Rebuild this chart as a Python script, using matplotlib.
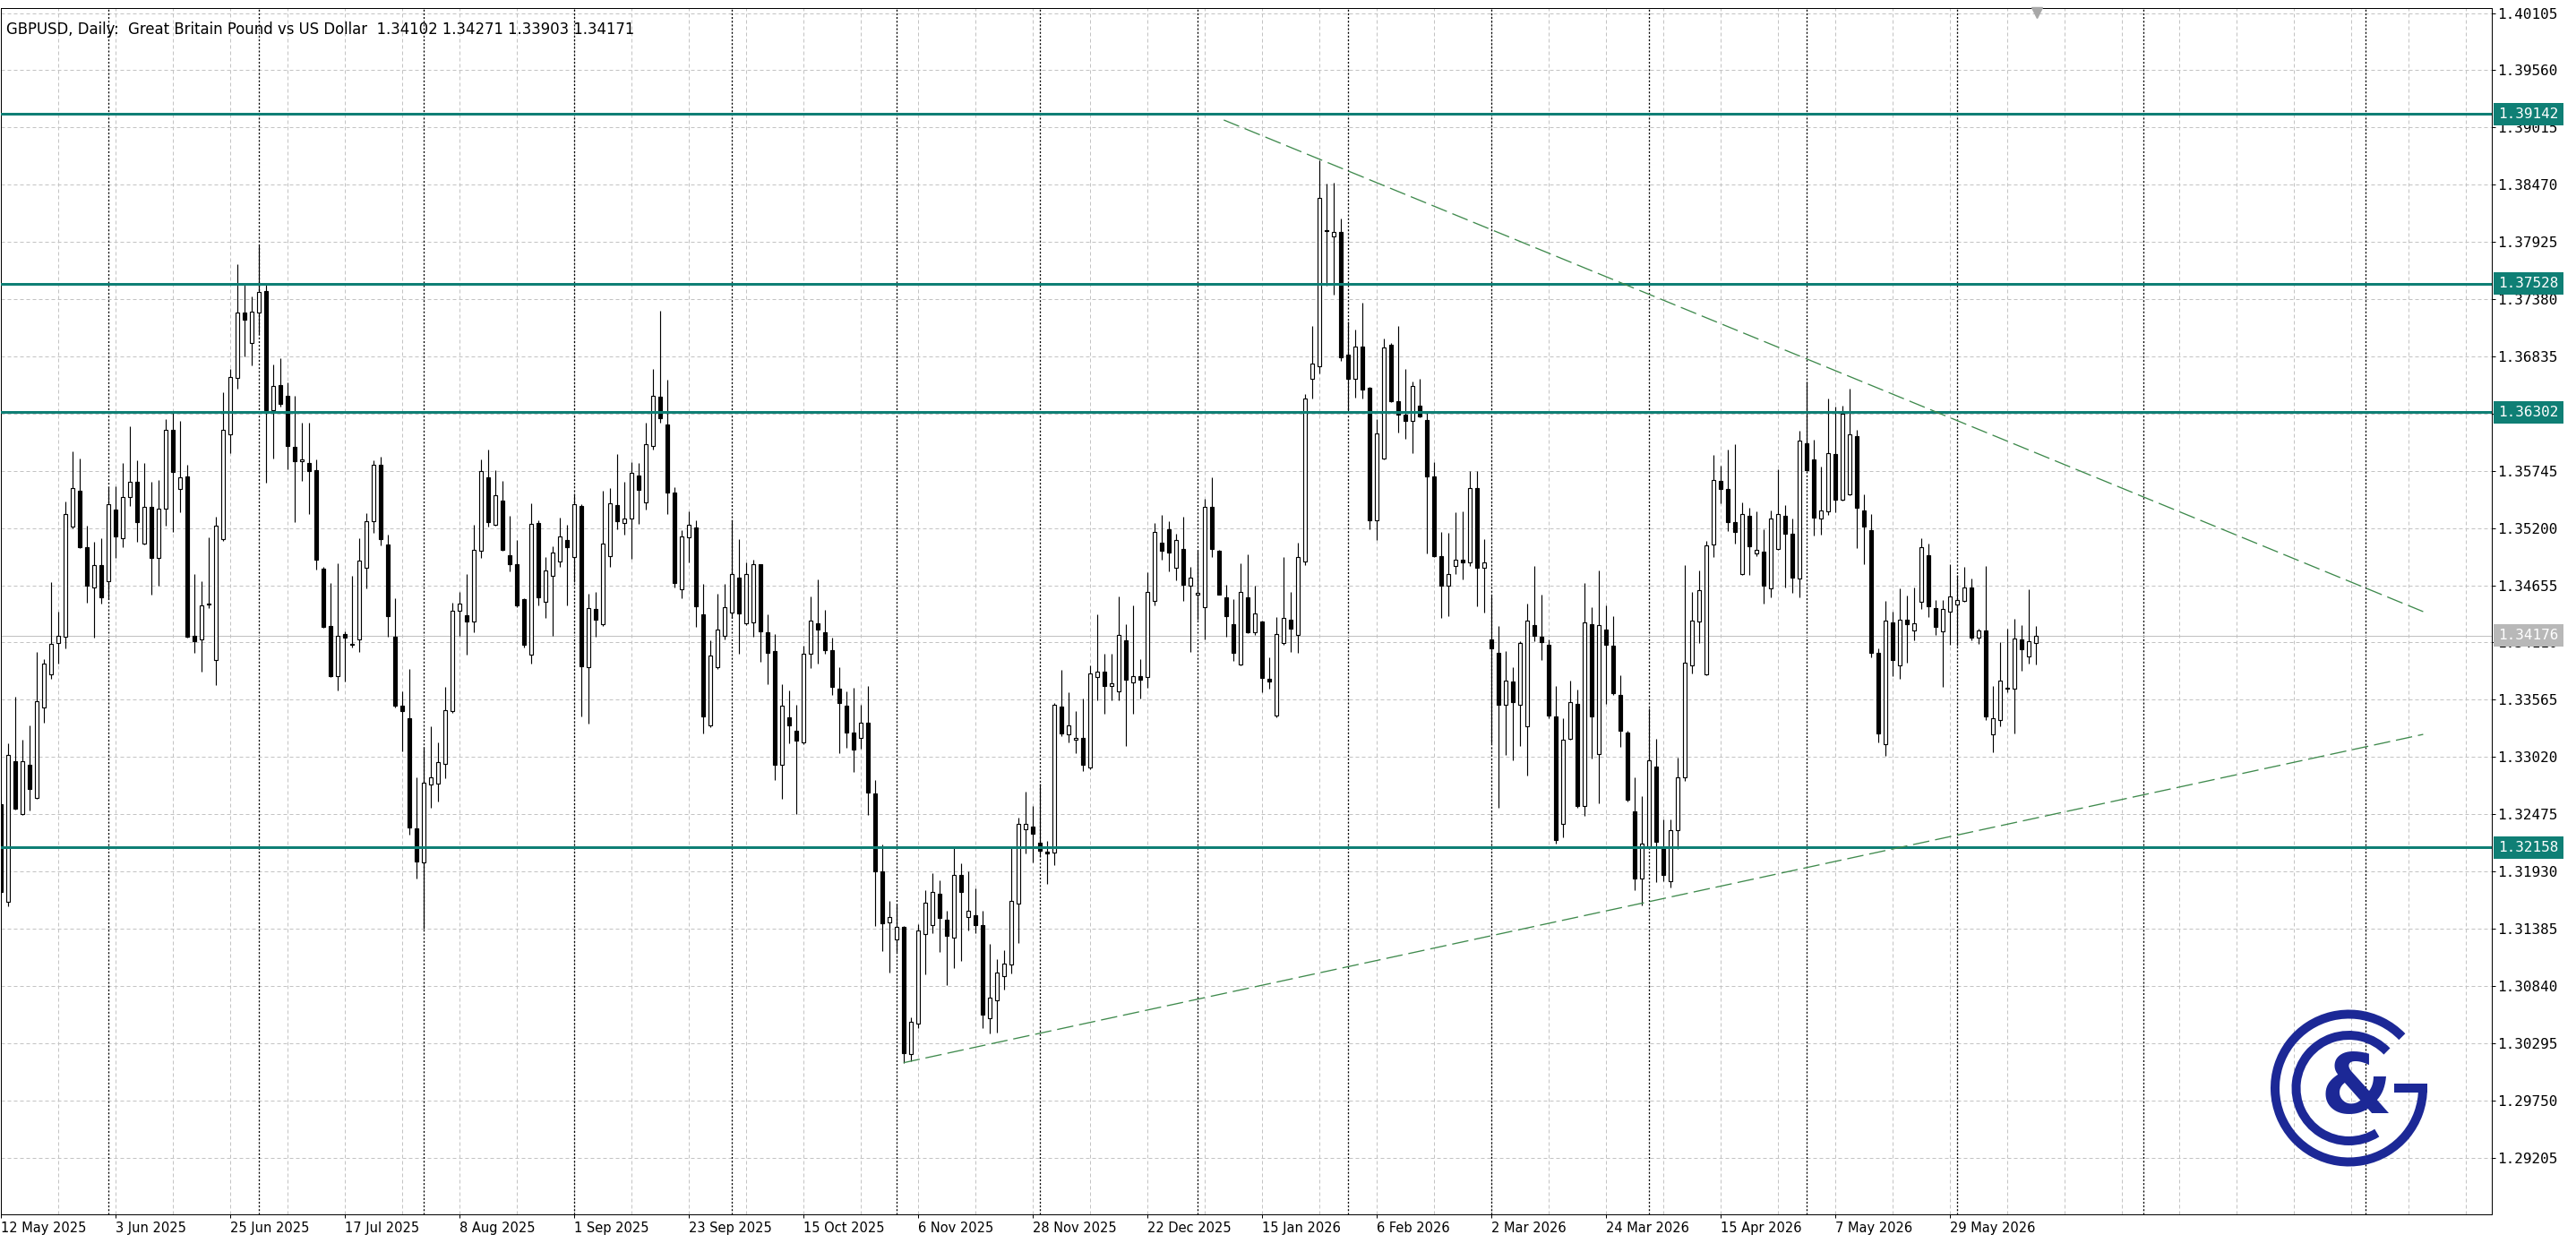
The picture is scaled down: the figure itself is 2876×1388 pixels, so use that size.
import numpy as np
import pandas as pd
import matplotlib
matplotlib.use("Agg")
from matplotlib import pyplot as plt
from matplotlib import transforms
from matplotlib.patches import Arc, Rectangle

# GBPUSD daily candles, prices in 1e-5 (points)
opens = np.array([
    132572, 131640, 132977, 132476, 132942, 132633, 133495, 133804, 134109, 134161,
    135211, 135551, 135019, 134632, 134850, 134697, 135372, 135102, 135494, 135638,
    135050, 135398, 134915, 135381, 136139, 135573, 135694, 134174, 134140, 134470,
    133939, 135093, 136091, 136631, 137254, 136962, 137254, 137454, 136322, 136565,
    136461, 135973, 135838, 135816, 135747, 134815, 134266, 133791, 134188, 134100,
    134140, 134819, 135263, 135799, 135046, 134166, 133508, 133391, 132341, 132014,
    132755, 132764, 132951, 133456, 134414, 134371, 134310, 134985, 135686, 135233,
    135464, 134937, 134858, 134523, 133992, 135250, 134497, 134749, 134880, 135089,
    134924, 135407, 133878, 134431, 134283, 134932, 135416, 135250, 135289, 135699,
    135446, 135982, 136448, 136187, 135542, 134619, 135111, 135207, 134379, 133317,
    133878, 134174, 134392, 134732, 134292, 134305, 134854, 134209, 134031, 132942,
    133399, 133273, 133160, 134000, 134296, 134209, 134039, 133674, 133508, 133251,
    133203, 133347, 132672, 131927, 131441, 131279, 131398, 130193, 130483, 131330,
    131421, 131714, 131467, 131302, 131896, 131492, 131509, 131418, 130534, 130705,
    130932, 131046, 131620, 132334, 132359, 132206, 132115, 132110, 133503, 133234,
    133186, 133204, 132917, 133784, 133832, 133700, 133641, 134131, 133730, 133790,
    133784, 134508, 135058, 135190, 134819, 134998, 134651, 134562, 134448, 135399,
    134980, 134538, 134281, 133904, 134538, 134209, 134310, 133766, 133414, 134101,
    134328, 134179, 134879, 136625, 136744, 138040, 137976, 138018, 136852, 136625,
    136924, 136535, 135273, 135864, 136941, 136412, 136280, 136217, 136363, 136231,
    135693, 134934, 134650, 134836, 134900, 134875, 135580, 134821, 134141, 134014,
    133515, 133735, 133515, 133309, 134273, 134166, 134087, 133407, 132379, 133192,
    133529, 132550, 134283, 133050, 134234, 134078, 133612, 133255, 132501, 131860,
    132168, 132927, 132154, 131836, 132325, 132829, 133891, 134312, 133808, 135043,
    135651, 135568, 135256, 134761, 135313, 134959, 134978, 134628, 134997, 135320,
    135142, 134719, 136005, 135853, 135294, 135359, 135903, 135473, 135522, 136074,
    135366, 135176, 134008, 133144, 134305, 133894, 134331, 134228, 134495, 134940,
    134438, 134217, 134407, 134476, 134502, 134636, 134160, 134228, 133235, 133372,
    133680, 133673, 134141, 133981, 134102]) / 1e5
highs = np.array([
    132650, 133151, 133595, 133182, 133321, 134022, 133948, 134688, 134401, 135450,
    135930, 135864, 135220, 135072, 135106, 135586, 135594, 135821, 136165, 135847,
    135821, 135642, 135655, 136234, 136317, 136221, 135799, 134762, 134697, 135115,
    135307, 136491, 136718, 137711, 137524, 137410, 137894, 137524, 136761, 136814,
    136583, 136461, 136200, 136200, 135851, 134830, 134675, 134863, 134218, 134741,
    135106, 135342, 135842, 135877, 135133, 134532, 133643, 133861, 132824, 133116,
    133308, 133160, 133687, 134488, 134588, 134762, 135233, 135851, 135947, 135747,
    135651, 135316, 135089, 134530, 135437, 135272, 134924, 135024, 135302, 135233,
    135525, 135424, 134575, 134588, 135555, 135577, 135903, 135638, 135829, 135821,
    136200, 136718, 137271, 136609, 135590, 135176, 135363, 135276, 134667, 134131,
    134575, 134667, 135276, 135098, 134871, 134902, 134860, 134379, 134188, 133709,
    133652, 133521, 134079, 134545, 134715, 134423, 134153, 133878, 133643, 133682,
    133521, 133695, 132803, 132183, 131648, 131614, 131410, 130543, 131427, 131751,
    131913, 131842, 131558, 132152, 132010, 131927, 131768, 131558, 131239, 131097,
    131179, 132149, 132444, 132692, 132552, 132768, 132218, 133533, 133850, 133635,
    133461, 133575, 133892, 134382, 134005, 133999, 134550, 134281, 134460, 133952,
    134777, 135249, 135327, 135267, 135148, 135309, 134831, 134986, 135477, 135686,
    134990, 134657, 134520, 134861, 134950, 134651, 134320, 133970, 134352, 134920,
    134592, 135058, 136475, 137121, 138706, 138479, 138485, 138150, 137163, 137091,
    137342, 136545, 136236, 137005, 136966, 137122, 136711, 136598, 136618, 136305,
    135830, 135164, 135154, 135350, 135360, 135742, 135742, 135091, 134557, 134264,
    134029, 133872, 134126, 134479, 134836, 134567, 134136, 133696, 133392, 133745,
    133661, 134675, 134445, 134797, 134460, 134361, 133794, 133270, 132829, 132643,
    133480, 133196, 132423, 132423, 133010, 134846, 134591, 134797, 135081, 135899,
    135796, 135948, 135998, 135442, 135397, 135359, 135187, 135370, 135758, 135416,
    135294, 136127, 136595, 136043, 135785, 136432, 136359, 136367, 136530, 136139,
    135518, 135332, 134053, 134502, 134407, 134628, 134560, 134636, 135100, 135054,
    134514, 134514, 134853, 134757, 134826, 134719, 134244, 134837, 133696, 134114,
    134244, 134339, 134274, 134617, 134271]) / 1e5
lows = np.array([
    131649, 131600, 132520, 132470, 132507, 132620, 133347, 133761, 133913, 134053,
    135200, 135011, 134492, 134153, 134479, 134523, 134915, 135015, 135407, 135072,
    135040, 134566, 134654, 135220, 135167, 135350, 134153, 134009, 133835, 134436,
    133704, 135080, 135917, 136526, 136831, 136753, 137049, 135633, 135860, 136361,
    135764, 135255, 135647, 135337, 134806, 134253, 133783, 133652, 133739, 134066,
    134022, 134623, 135150, 135032, 134161, 133490, 133077, 132276, 131858, 131387,
    132537, 132594, 132816, 133440, 134174, 133992, 134205, 134915, 135215, 135220,
    134980, 134784, 134450, 134061, 133909, 134466, 134344, 134174, 134828, 134466,
    134684, 133404, 133334, 134161, 134266, 134828, 135189, 135133, 134906, 135237,
    135372, 135947, 136200, 135337, 134632, 134532, 134871, 134262, 133247, 133304,
    133857, 134140, 134340, 134000, 134275, 134161, 133926, 133717, 132803, 132620,
    133151, 132476, 133138, 133870, 133905, 134000, 133608, 133055, 133107, 132877,
    133099, 132467, 131407, 131168, 130969, 131160, 130108, 130122, 130440, 130952,
    131339, 131165, 130847, 131012, 131080, 131364, 131344, 130440, 130383, 130392,
    130804, 130960, 131250, 132098, 132018, 132068, 131811, 131990, 133222, 133162,
    133055, 132887, 132905, 133563, 133431, 133563, 133563, 133126, 133431, 133575,
    133683, 134460, 134897, 134789, 134699, 134502, 134023, 134328, 134143, 134926,
    134562, 134161, 133934, 133890, 134200, 134179, 133635, 133671, 133400, 134090,
    134023, 134012, 134849, 136433, 136673, 137510, 137420, 136792, 136314, 136445,
    136433, 135190, 135088, 135850, 136403, 136109, 136050, 135913, 136256, 134959,
    134924, 134347, 134357, 134763, 134714, 134836, 134459, 134396, 133147, 132536,
    133040, 132986, 133123, 132839, 134126, 133945, 133392, 132193, 132257, 133180,
    132536, 132462, 133001, 132575, 133524, 133612, 133113, 132599, 131752, 131606,
    132150, 131826, 131840, 131777, 132144, 132790, 133818, 134102, 133800, 134921,
    135435, 135168, 135054, 134750, 134750, 134929, 134483, 134540, 134990, 134636,
    134579, 134540, 135740, 135130, 135138, 135328, 135351, 135465, 135510, 135009,
    134853, 133970, 133159, 133030, 133787, 133768, 133920, 134133, 134426, 134350,
    134179, 133684, 134084, 134076, 134495, 134133, 134095, 133369, 133068, 133315,
    133635, 133247, 133844, 133913, 133903]) / 1e5
closes = np.array([
    131736, 133042, 132528, 132977, 132711, 133552, 133913, 134100, 134174, 135337,
    135577, 135019, 134649, 134850, 134536, 135429, 135120, 135494, 135642, 135255,
    135398, 134915, 135381, 136139, 135738, 135686, 134166, 134122, 134466, 134480,
    135220, 136139, 136635, 137254, 137184, 137262, 137445, 136322, 136552, 136383,
    135982, 135838, 135856, 135742, 134902, 134262, 133791, 134174, 134153, 134087,
    134893, 135263, 135799, 135098, 134362, 133508, 133456, 132345, 132028, 132772,
    132824, 132968, 133469, 134414, 134479, 134310, 134989, 135742, 135255, 135512,
    134989, 134854, 134462, 134087, 135237, 134536, 134797, 134967, 135120, 135019,
    135429, 133883, 134436, 134327, 135054, 135437, 135263, 135294, 135729, 135564,
    135995, 136457, 136248, 135538, 134675, 135124, 135233, 134458, 133404, 133987,
    134236, 134445, 134762, 134384, 134762, 134854, 134218, 134013, 132942, 133508,
    133317, 133173, 134000, 134318, 134231, 134039, 133687, 133534, 133251, 133094,
    133347, 132681, 131932, 131438, 131495, 131398, 130201, 130494, 131364, 131629,
    131734, 131489, 131319, 131896, 131737, 131552, 131421, 130568, 130725, 130966,
    131049, 131648, 132379, 132379, 132288, 132128, 132105, 133515, 133246, 133318,
    133204, 132947, 133814, 133832, 133700, 133724, 134179, 133754, 133790, 133754,
    134592, 135160, 134980, 134968, 135088, 134663, 134729, 134580, 135405, 134998,
    134562, 134358, 134012, 134592, 134209, 134388, 133772, 133742, 134191, 134340,
    134239, 134926, 136433, 136762, 138341, 138030, 138024, 136822, 136625, 136924,
    136523, 135273, 136098, 136917, 136412, 136280, 136217, 136549, 136265, 135693,
    134934, 134650, 134763, 134900, 134875, 135580, 134821, 134870, 134053, 133515,
    133745, 133539, 134102, 134322, 134175, 134112, 133417, 132232, 133187, 133539,
    132550, 134298, 133402, 134273, 134087, 133627, 133270, 132609, 131860, 132193,
    132991, 132208, 131899, 132325, 132829, 133916, 134322, 134606, 135032, 135655,
    135568, 135256, 135161, 135332, 135024, 134989, 134655, 135290, 135332, 135149,
    134731, 136032, 135747, 135301, 135366, 135910, 135473, 136291, 136089, 135389,
    135218, 134008, 133247, 134320, 133943, 134331, 134286, 134293, 135016, 134453,
    134255, 134426, 134548, 134514, 134636, 134160, 134228, 133407, 133388, 133749,
    133670, 134152, 134046, 134122, 134171]) / 1e5

holidays = ["2025-12-25", "2026-01-01"]
n = len(opens)
# trading days for the bars, then plain calendar days for the empty shifted area (as MT4 does)
bar_days = pd.bdate_range("2025-05-12", periods=n, freq="C", holidays=holidays)
future_days = pd.date_range(bar_days[-1] + pd.Timedelta(days=1), periods=80, freq="D")
days = bar_days.append(future_days)

price_ticks = [1.40105, 1.39560, 1.39015, 1.38470, 1.37925, 1.37380, 1.36835,
               1.36290, 1.35745, 1.35200, 1.34655, 1.34110, 1.33565, 1.33020,
               1.32475, 1.31930, 1.31385, 1.30840, 1.30295, 1.29750, 1.29205]
levels = [1.39142, 1.37528, 1.36302, 1.32158]
bid = 1.34176
upper_x, upper_y = [170.7, 338.1], [1.39086, 1.34404]
lower_x, lower_y = [126.0, 338.1], [1.30108, 1.33235]
label_bars = list(range(0, n, 16))
title = "GBPUSD, Daily:  Great Britain Pound vs US Dollar  1.34102 1.34271 1.33903 1.34171"

W, H = 2876, 1388
PX = 0.72  # one pixel in points at dpi 100
teal = "#0f7f75"
green = "#3f8a4d"
navy = "#1c2896"
grid_c = "#c3c3c3"

fig = plt.figure(figsize=(W / 100, H / 100), dpi=100)
fig.patch.set_facecolor("white")
ax = fig.add_axes([0.5 / W, 1 - 1356 / H, 2781.5 / W, (1356 - 9) / H])
x_lo, x_hi = -0.3 / 8, (2781.7 - 0.3) / 8
y_lo, y_hi = 1.28664, 1.40152
ax.set_xlim(x_lo, x_hi)
ax.set_ylim(y_lo, y_hi)

# grid
ax.hlines(price_ticks, x_lo, x_hi, colors=grid_c, linestyles=(0, (4, 3)), lw=PX, zorder=1)
ax.vlines(np.arange(0, x_hi, 8), y_lo, y_hi, colors=grid_c, linestyles=(0, (4, 3)), lw=PX, zorder=1)
# month separators
seps = [i for i in range(1, len(days)) if days[i].month != days[i - 1].month and i < x_hi]
ax.vlines(seps, y_lo, y_hi, colors="black", linestyles=(0, (1.6, 1.6)), lw=PX * 1.3, zorder=1.5)
ax.axhline(bid, color="#c0c0c0", lw=PX, zorder=1.6)

# candles
xs = np.arange(n)
up = closes >= opens
ax.vlines(xs, lows, highs, colors="black", lw=PX * 1.15, zorder=3)
ax.bar(xs, np.abs(closes - opens), bottom=np.minimum(opens, closes), width=0.52,
       color=np.where(up, "white", "black"), edgecolor="black", linewidth=PX * 1.15, zorder=4)

# levels and trend lines
for lv in levels:
    ax.axhline(lv, color=teal, lw=3 * PX, zorder=6)
ax.plot(upper_x, upper_y, color=green, lw=0.95, dashes=(14, 5), zorder=6)
ax.plot(lower_x, lower_y, color=green, lw=0.95, dashes=(14, 5), zorder=6)

# axes look
for s in ax.spines.values():
    s.set_color("black")
    s.set_linewidth(PX)
ax.yaxis.tick_right()
ax.set_yticks(price_ticks)
ax.set_yticklabels([f"{v:.5f}" for v in price_ticks], family="DejaVu Sans Mono", fontsize=11.5)
ax.tick_params(axis="y", direction="out", length=4 * PX, width=PX, pad=2 * PX, colors="black")
ax.set_xticks(label_bars)
ax.set_xticklabels([f"{days[i].day} {days[i].strftime('%b %Y')}" for i in label_bars],
                   fontsize=10.5, ha="left")
ax.tick_params(axis="x", direction="out", length=4 * PX, width=PX, pad=4 * PX, colors="black")

trans = transforms.blended_transform_factory(ax.transAxes, ax.transData)
for lv, fc in [(lv, teal) for lv in levels] + [(bid, "#b8b8b8")]:
    ax.text(1 + 7.5 / 2781.5, lv, f"{lv:.5f}", transform=trans, ha="left", va="center",
            color="white", family="DejaVu Sans Mono", fontsize=11.5, clip_on=False, zorder=10,
            bbox=dict(boxstyle="square,pad=0.32", fc=fc, ec="none"))

# chart shift marker
ax.plot([n - 1 + 0.2], [1 - 5 / 1347], transform=transforms.blended_transform_factory(ax.transData, ax.transAxes),
        marker="v", ms=8, color="#a8a8a8", clip_on=False, zorder=10)

fig.text(7 / W, 1 - 33 / H, title, fontsize=11.9, va="center", ha="left", zorder=20)

# logo
lg = fig.add_axes([(2622.5 - 100) / W, (H - 1215 - 100) / H, 200 / W, 200 / H])
lg.set_xlim(-100, 100)
lg.set_ylim(-100, 100)
lg.axis("off")
lg.patch.set_alpha(0)
lg.add_patch(Arc((0, 0), 165, 165, theta1=44, theta2=360, lw=10 * PX, color=navy))
lg.add_patch(Rectangle((50, -5), 37.5, 10, color=navy, lw=0))
lg.add_patch(Arc((0, 0), 118, 118, theta1=44, theta2=302, lw=10 * PX, color=navy))
lg.text(8, -2, "&", fontsize=66, fontweight="bold", color=navy, ha="center", va="center")

fig.savefig("out.png", dpi=100)
